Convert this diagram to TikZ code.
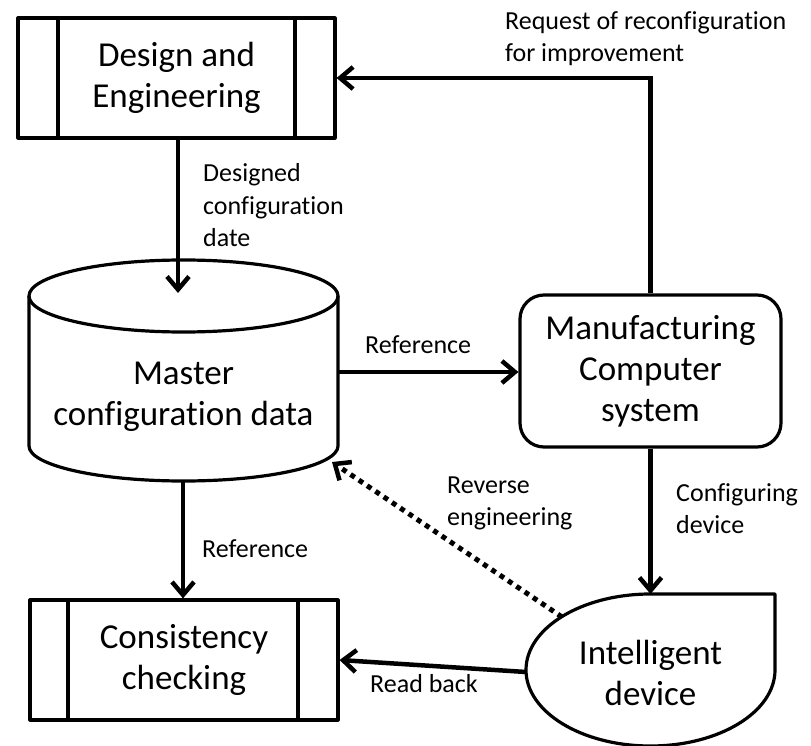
\documentclass[tikz,border=0pt]{standalone}
\usepackage{fontspec}
\setmainfont{Carlito}[Ligatures={NoCommon,NoContextual}]
\usetikzlibrary{arrows.meta,calc}
\begin{document}
\begin{tikzpicture}[x=1pt,y=-1pt,
  shapeline/.style={line width=3.2pt, line join=round},
  maintext/.style={font=\fontsize{35}{41}\selectfont, align=center},
  lbl/.style={font=\fontsize{26}{32}\selectfont, align=left, anchor=base west, inner sep=0pt},
  arr/.style={line width=4.5pt, -{Straight Barb[length=13pt,width=22pt,line width=4.5pt]}},
  dotarr/.style={line width=5pt, dash pattern=on 5pt off 5pt, -{Straight Barb[length=13pt,width=22pt,line width=4.5pt]}}
]
\useasboundingbox (0,0) rectangle (811,746);

% Design and Engineering
\node[shapeline, draw, maintext, minimum width=317, minimum height=120, inner sep=0pt] (design) at (176.5,78) {Design and\\Engineering};
\draw[shapeline] (58,18) -- (58,138) (295,18) -- (295,138);

% Master configuration data (cylinder)
\draw[shapeline] (29,296) -- (29,446) arc[start angle=180, end angle=0, x radius=154.5, y radius=35] -- (338,296);
\draw[shapeline] (183.5,296) ellipse[x radius=154.5, y radius=36];
\node[maintext] (master) at (183.5,397) {Master\\configuration data};
\coordinate (mtop) at (178,293);
\coordinate (mright) at (338,372);
\coordinate (mbot) at (183,481);
\coordinate (mbr) at (332,462);

% Manufacturing Computer system
\node[shapeline, draw, rounded corners=24pt, maintext, minimum width=261, minimum height=152, inner sep=0pt] (manuf) at (650.5,371) {Manufacturing\\Computer\\system};

% Consistency checking
\node[shapeline, draw, maintext, minimum width=308, minimum height=120, inner sep=0pt] (cons) at (184,660) {Consistency\\checking};
\draw[shapeline] (68,600) -- (68,720) (298,600) -- (298,720);

% Intelligent device
\draw[shapeline] (650.5,594) -- (775,594) -- (775,670)
  arc[start angle=0, end angle=270, x radius=124.5, y radius=76] -- cycle;
\node[maintext] (dev) at (650.5,673) {Intelligent\\device};
\coordinate (devtop) at (650.5,594);
\coordinate (devul) at (562,617);
\coordinate (devleft) at (526,672);

% Connectors
\draw[arr] (design.south -| mtop) -- (mtop);
\draw[arr] (manuf.north) |- (design.east);
\draw[arr] (mright) -- (manuf.west |- mright);
\draw[arr] (manuf.south) -- (devtop);
\draw[dotarr] (devul) -- (mbr);
\draw[arr] (mbot) -- (cons.north -| mbot);
\draw[arr] (devleft) -- (cons.east);

% Labels (anchored at the baseline of their last line)
\node[lbl] (lreq) at (505,62) {Request of reconfiguration\\for improvement};
\node[lbl] (ldcd) at (203,246) {Designed\\configuration\\date};
\node[lbl] (lref1) at (365,353) {Reference};
\node[lbl] (lconf) at (676,533) {Configuring\\device};
\node[lbl] (lrev) at (447,525) {Reverse\\engineering};
\node[lbl] (lref2) at (202,557) {Reference};
\node[lbl] (lrb) at (370,692) {Read back};
\end{tikzpicture}
\end{document}
